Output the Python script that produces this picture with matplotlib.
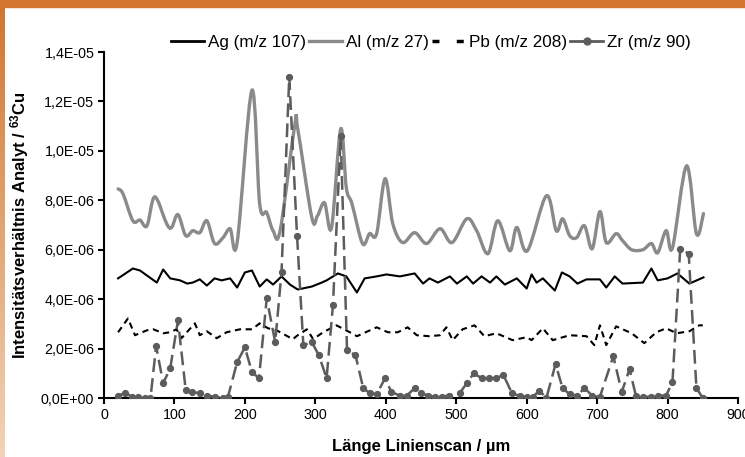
import matplotlib
matplotlib.use("Agg")
import matplotlib.pyplot as plt
import numpy as np
from matplotlib.patches import Rectangle, PathPatch
from matplotlib.path import Path
from matplotlib.lines import Line2D
from matplotlib.ticker import FuncFormatter, MultipleLocator

plt.rcParams["font.family"] = ["Liberation Sans", "DejaVu Sans"]
plt.rcParams["mathtext.fontset"] = "custom"
plt.rcParams["mathtext.rm"] = "Liberation Sans"
plt.rcParams["mathtext.bf"] = "Liberation Sans:bold"

# Line scan data (values in 1E-06)
ag_x = [20, 41, 51, 75, 84, 94, 108, 118, 126, 136, 146, 157, 167, 179, 189, 200, 210,
        221, 231, 240, 252, 264, 275, 295, 309, 316, 332, 344, 359, 370, 387, 401, 420,
        441, 453, 462, 474, 491, 501, 515, 524, 536, 548, 557, 569, 586, 600, 607, 614,
        623, 640, 650, 661, 672, 685, 704, 713, 725, 736, 765, 777, 786, 800, 814, 831, 851]
ag_y = [4.84, 5.24, 5.16, 4.67, 5.2, 4.84, 4.76, 4.63, 4.67, 4.8, 4.55, 4.84, 4.76, 4.84,
        4.47, 5.08, 5.16, 4.51, 4.8, 4.59, 4.92, 4.59, 4.39, 4.51, 4.67, 4.76, 5.04, 4.92,
        4.27, 4.84, 4.92, 5.0, 4.92, 5.04, 4.63, 4.84, 4.67, 4.92, 4.63, 4.92, 4.63, 4.92,
        4.67, 4.92, 4.59, 4.84, 4.43, 5.0, 4.67, 4.84, 4.35, 5.08, 4.92, 4.63, 4.8, 4.8,
        4.47, 4.92, 4.63, 4.67, 5.24, 4.76, 4.84, 5.04, 4.63, 4.88]

al_x = [20, 27, 41, 51, 61, 72, 89, 96, 105, 116, 126, 136, 146, 157, 169, 179, 189, 210,
        221, 231, 240, 250, 271, 275, 295, 303, 313, 323, 336, 344, 352, 367, 377, 387,
        399, 410, 424, 441, 458, 477, 494, 515, 529, 545, 559, 576, 586, 601, 628, 642,
        651, 661, 671, 682, 693, 704, 713, 727, 736, 749, 765, 777, 786, 798, 807, 827,
        841, 851]
al_y = [8.46, 8.26, 7.17, 7.2, 6.97, 8.14, 7.05, 6.9, 7.42, 6.57, 6.77, 6.69, 7.17, 6.25,
        6.49, 6.85, 6.29, 12.45, 7.86, 7.5, 6.77, 6.77, 11.08, 10.9, 7.3, 7.37, 7.9, 6.9,
        10.88, 8.5, 7.86, 6.25, 6.65, 6.65, 8.87, 7.05, 6.29, 6.69, 6.25, 6.85, 6.29,
        7.25, 6.77, 5.84, 7.17, 5.96, 6.9, 5.96, 8.18, 6.77, 7.25, 6.57, 6.49, 6.97, 6.04,
        7.54, 6.29, 6.65, 6.37, 6.0, 6.0, 6.25, 5.88, 6.77, 6.08, 9.39, 6.65, 7.46]

pb_x = [20, 34, 44, 61, 70, 84, 94, 103, 110, 129, 136, 146, 160, 174, 193, 210, 221, 233,
        245, 268, 275, 288, 297, 311, 330, 349, 359, 387, 403, 417, 431, 444, 462, 477,
        486, 495, 509, 526, 540, 557, 580, 600, 607, 623, 637, 661, 685, 696, 704, 713,
        727, 749, 767, 784, 798, 813, 831, 845, 850]
pb_y = [2.66, 3.22, 2.54, 2.74, 2.78, 2.62, 2.66, 2.78, 2.42, 3.02, 2.54, 2.7, 2.42, 2.66,
        2.78, 2.78, 3.02, 2.82, 2.74, 2.38, 2.54, 2.78, 2.38, 2.66, 2.94, 2.66, 2.5, 2.86,
        2.66, 2.66, 2.86, 2.54, 2.5, 2.54, 2.86, 2.34, 2.78, 2.94, 2.5, 2.62, 2.34, 2.46,
        2.34, 2.82, 2.34, 2.54, 2.5, 2.14, 2.94, 2.14, 2.9, 2.62, 2.22, 2.66, 2.82, 2.62,
        2.7, 2.94, 2.94]

zr_x = [20, 30, 40, 48, 58, 66, 74, 84, 94, 105, 116, 125, 136, 146, 157, 169, 176, 189,
        200, 210, 220, 231, 243, 252, 263, 274, 283, 295, 305, 316, 325, 336, 345, 357,
        368, 377, 387, 399, 408, 420, 430, 441, 450, 460, 470, 480, 490, 505, 515, 525,
        536, 546, 557, 567, 579, 590, 600, 609, 618, 628, 641, 651, 661, 672, 682, 693,
        704, 723, 735, 746, 755, 765, 776, 786, 798, 807, 818, 830, 841, 850]
zr_y = [0.1, 0.2, 0.05, 0.03, 0.0, 0.0, 2.1, 0.6, 1.2, 3.14, 0.32, 0.24, 0.2, 0.1, 0.05,
        0.0, 0.05, 1.45, 2.05, 1.05, 0.8, 4.03, 2.26, 5.08, 13.0, 6.57, 2.14, 2.26, 1.73,
        0.8, 3.75, 10.6, 1.93, 1.73, 0.4, 0.2, 0.15, 0.8, 0.24, 0.1, 0.1, 0.4, 0.2, 0.1,
        0.05, 0.05, 0.1, 0.2, 0.6, 1.0, 0.8, 0.8, 0.8, 0.93, 0.2, 0.08, 0.05, 0.05, 0.3,
        0.0, 1.37, 0.4, 0.15, 0.1, 0.4, 0.1, 0.05, 1.69, 0.24, 1.17, 0.1, 0.05, 0.05, 0.1,
        0.1, 0.65, 6.04, 5.84, 0.4, 0.0]

E = 1e-6


def smooth_path(xs, ys):
    # Excel-style smoothed line: Bezier segments through the data points
    p = np.column_stack([xs, ys])
    ext = np.vstack([p[0], p, p[-1]])
    verts = [p[0]]
    codes = [Path.MOVETO]
    for i in range(len(p) - 1):
        a, b, c, d = ext[i], ext[i + 1], ext[i + 2], ext[i + 3]
        verts += [b + (c - a) / 6, c - (d - b) / 6, c]
        codes += [Path.CURVE4] * 3
    return Path(verts, codes)


fig = plt.figure(figsize=(7.45, 4.57), dpi=100)
ax = fig.add_axes([104 / 745, 1 - 398 / 457, 634 / 745, 346 / 457])

ag_col, al_col, zr_col = "black", "#8a8a8a", "#5c5c5c"
ax.plot(ag_x, np.array(ag_y) * E, color=ag_col, lw=1.5, zorder=3)
ax.add_patch(PathPatch(smooth_path(al_x, np.array(al_y) * E), fill=False,
                       edgecolor=al_col, lw=2.4, zorder=2, capstyle="round"))
ax.plot(pb_x, np.array(pb_y) * E, color="black", lw=1.5, ls=(0, (3, 2.2)), zorder=3)
ax.plot(zr_x, np.array(zr_y) * E, color=zr_col, lw=1.8, ls=(0, (5.5, 2.5)),
        marker="o", ms=4.2, zorder=4)

ax.set_xlim(0, 900)
ax.set_ylim(0, 1.4e-5)
ax.xaxis.set_major_locator(MultipleLocator(100))
ax.yaxis.set_major_locator(MultipleLocator(2e-6))
ax.yaxis.set_major_formatter(FuncFormatter(lambda v, p: f"{v:.1E}".replace(".", ",")))
ax.spines["top"].set_visible(False)
ax.spines["right"].set_visible(False)
ax.spines["left"].set_linewidth(1.5)
ax.spines["bottom"].set_linewidth(1.5)
ax.tick_params(direction="out", length=4, width=1.5, labelsize=10.3, colors="black")
ax.tick_params(axis="y", pad=3)

ax.set_xlabel("Länge Linienscan / µm", fontsize=12, fontweight="bold", labelpad=12)
ax.set_ylabel(r"Intensitätsverhältnis Analyt / $\mathbf{{}^{63}Cu}$", fontsize=12,
              fontweight="bold", labelpad=7)

handles = [
    Line2D([], [], color=ag_col, lw=2),
    Line2D([], [], color=al_col, lw=2.4),
    Line2D([], [], color="black", lw=2.5, ls=(0, (2, 5))),
    Line2D([], [], color=zr_col, lw=2, marker="o", ms=5, markevery=[1]),
]
labels = ["Ag (m/z 107)", "Al (m/z 27)", "Pb (m/z 208)", "Zr (m/z 90)"]
for h in handles[3:]:
    h.set_data([0, 1], [0, 0])
fig.legend(handles, labels, loc="center", bbox_to_anchor=(431 / 745, 1 - 42 / 457),
           ncol=4, frameon=False, fontsize=12.3, handlelength=1.9, handletextpad=0.25,
           columnspacing=0.2)

# orange frame
fig.patches.append(Rectangle((0, 1 - 7 / 457), 1, 7 / 457, transform=fig.transFigure,
                             color="#d2762f", zorder=10))
grad = np.linspace(0, 1, 256)[:, None]
top_c = np.array([0.82, 0.46, 0.18])
bot_c = np.array([0.95, 0.83, 0.72])
img = top_c[None, None, :] * (1 - grad[:, :, None]) + bot_c[None, None, :] * grad[:, :, None]
sax = fig.add_axes([0, 0, 5 / 745, 1])
sax.imshow(img, aspect="auto")
sax.axis("off")

fig.savefig("out.png", dpi=100)
